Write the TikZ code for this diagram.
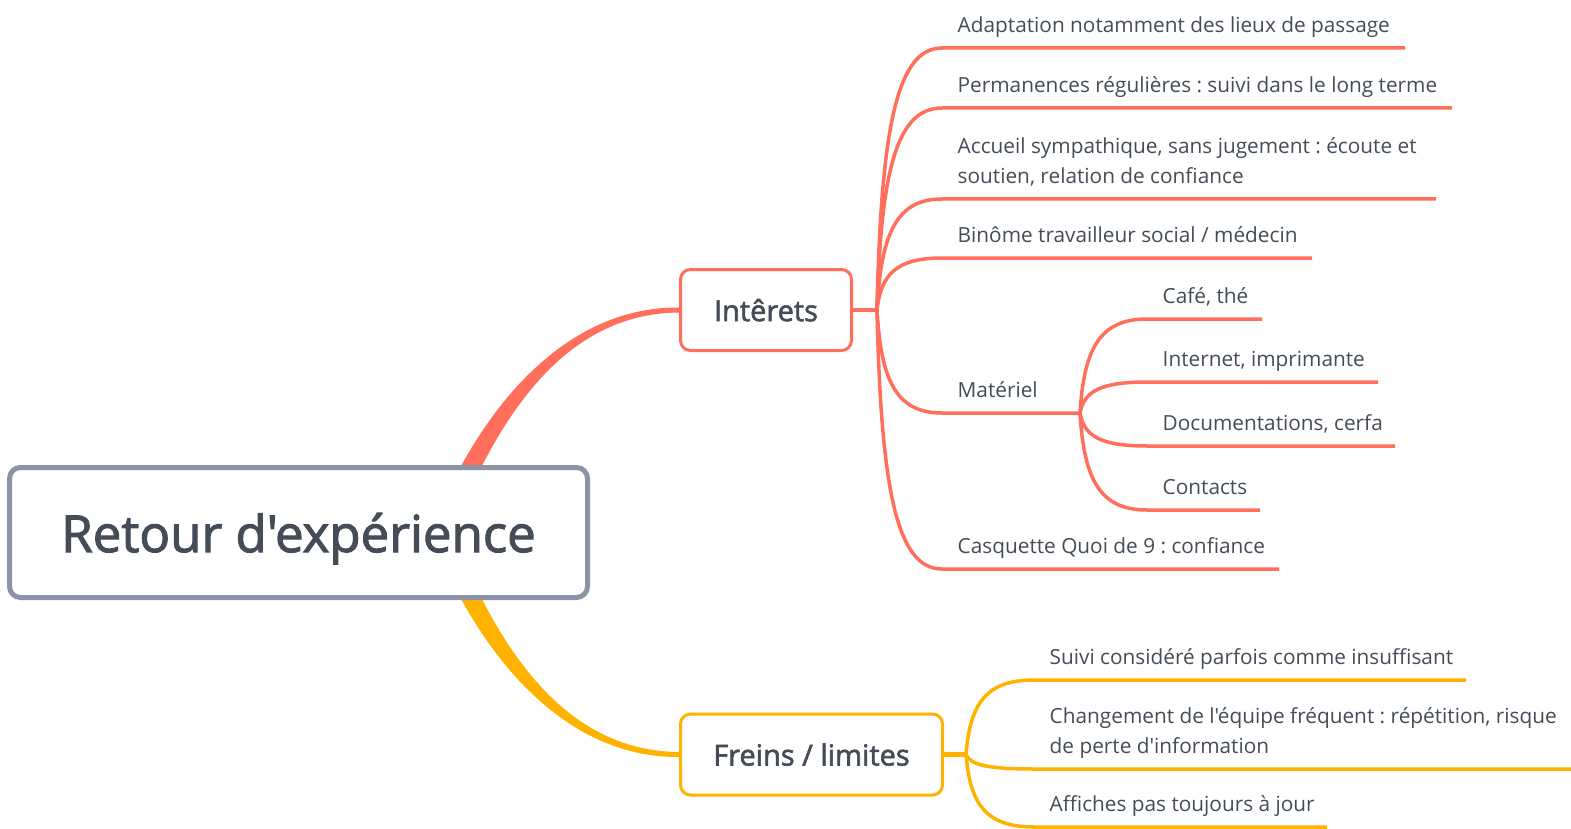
\documentclass[tikz,border=0pt]{standalone}
\usepackage{fontspec}
\setmainfont{Open Sans}[Ligatures=TeXOff]
\newfontfamily\semib{Open Sans}[Ligatures=TeXOff, FakeBold=2]
\frenchspacing
\usetikzlibrary{positioning}
\usetikzlibrary{calc}
\pgfdeclarelayer{mapbg}
\pgfsetlayers{mapbg,main}
\definecolor{coral}{HTML}{FF6F5B}
\definecolor{amber}{HTML}{FFB300}
\definecolor{slate}{HTML}{8A94A6}
\definecolor{ink}{HTML}{434C57}
\tikzset{
  rootbox/.style={draw=slate, line width=5pt, fill=white, rounded corners=11pt, minimum width=578pt, minimum height=130pt, text depth=0pt, font=\semib\fontsize{51}{60}\selectfont, text=ink},
  topicbox/.style={line width=3pt, fill=white, rounded corners=10pt, minimum height=81pt, text depth=0pt, font=\semib\fontsize{29}{34}\selectfont, text=ink},
  leaf/.style={anchor=south west, inner xsep=15.5pt, inner ysep=15pt, text depth=0pt, align=left, font=\fontsize{20.8}{30}\selectfont, text=ink},
  branch/.style={line width=3.5pt},
  twig/.style={to path={.. controls ($(\tikztostart)!.69!(\tikztostart|-\tikztotarget)+(4pt,0)$) and ($(\tikztotarget)!.7!(\tikztostart|-\tikztotarget)$) .. (\tikztotarget)}}
}
\begin{document}
\begin{tikzpicture}[x=1pt, y=-1pt]
	\useasboundingbox (0,0) rectangle (1571,829);
	\node at (298.5,532.5) (retour) [rootbox] {Retour d'expérience};
	\node at (766,310) (interets) [topicbox, draw=coral, minimum width=171pt] {Intêrets};
	\node at (811.5,754.5) (freins) [topicbox, draw=amber, minimum width=262pt] {Freins / limites};
	\coordinate (rootn) at ($(retour.center)+(132,28)$);
	\coordinate (rootf) at ($(retour.center)+(132,-28)$);
	\coordinate [right=24pt of interets.east] (hubi);
	\coordinate [right=22pt of freins.east] (hubf);
	% Interets
	\node at (942,48) (adapt) [leaf] {Adaptation notamment des lieux de passage};
	\node at (942,108) (perm) [leaf] {Permanences régulières : suivi dans le long terme};
	\node at (942,199) (accueil) [leaf] {Accueil sympathique, sans jugement : écoute et\\soutien, relation de confiance};
	\node at (942,258) (binome) [leaf] {Binôme travailleur social / médecin};
	\node at (942,413) (materiel) [leaf] {Matériel};
	\node at (942,569) (casquette) [leaf] {Casquette Quoi de 9 : confiance};
	\coordinate (hubm) at ($(materiel.south west)+(138,0)$);
	\node at (1147,319) (cafe) [leaf] {Café, thé};
	\node at (1147,382) (internet) [leaf] {Internet, imprimante};
	\node at (1147,446) (docs) [leaf] {Documentations, cerfa};
	\node at (1147,510) (contacts) [leaf] {Contacts};
	% Freins
	\node at (1034,680) (suivi) [leaf] {Suivi considéré parfois comme insuffisant};
	\node at (1034,769) (changement) [leaf] {Changement de l'équipe fréquent : répétition, risque\\de perte d'information};
	\node at (1034,827) (affiches) [leaf] {Affiches pas toujours à jour};
	\begin{pgfonlayer}{mapbg}
	\fill[coral] ($(rootn)+(-11,0)$) .. controls (469,417) and (560,306.5) .. ($(interets.west)+(0,-2.5)$) -- ($(interets.west)+(0,2.5)$) .. controls (560,313.5) and (491,424) .. ($(rootn)+(11,0)$) -- cycle;
	\fill[amber] ($(rootf)+(-11,0)$) .. controls (469,648) and (560,758) .. ($(freins.west)+(0,2.5)$) -- ($(freins.west)+(0,-2.5)$) .. controls (560,751) and (491,641) .. ($(rootf)+(11,0)$) -- cycle;
	\draw[branch, coral, line width=4.5pt] (interets.east) -- (hubi);
	\draw[branch, amber, line width=4.5pt] (freins.east) -- (hubf);
	\foreach \n/\l in {adapt/463, perm/510, accueil/494, binome/370, materiel/138, casquette/337}
		\draw[branch, coral] (hubi) to[twig] (\n.south west) -- ++(\l,0);
	\foreach \n/\l in {cafe/115, internet/231, docs/248, contacts/113}
		\draw[branch, coral] (hubm) to[twig] (\n.south west) -- ++(\l,0);
	\foreach \n/\l in {suivi/432, changement/537, affiches/293}
		\draw[branch, amber] (hubf) to[twig] (\n.south west) -- ++(\l,0);
	\end{pgfonlayer}
\end{tikzpicture}
\end{document}
